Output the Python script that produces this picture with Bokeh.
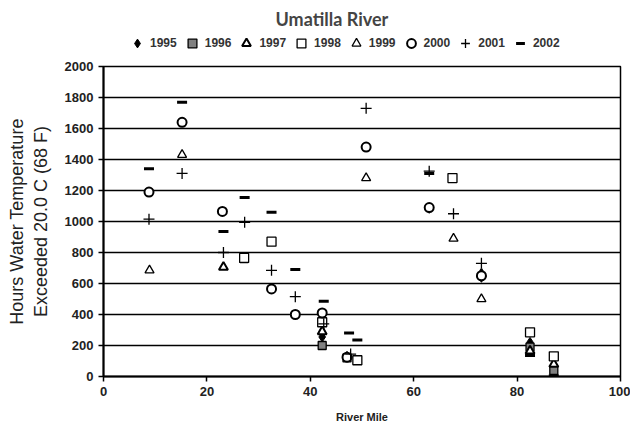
from bokeh.plotting import figure
from bokeh.layouts import column
from bokeh.models import Legend, LegendItem, Range1d, FixedTicker
from bokeh.embed import file_html
from bokeh.resources import INLINE

# River mile (x) and hours exceeded (y) per year
x1995 = [32.5, 42.3, 47.1, 63.0, 73.1, 82.5, 87.1]
y1995 = [565, 255, 130, 1085, 640, 220, 60]
x1996 = [27.2, 42.3, 47.1, 82.5, 87.1]
y1996 = [760, 200, 120, 190, 40]
x1997 = [23.2, 42.3, 73.1, 82.5, 87.1]
y1997 = [705, 290, 660, 165, 80]
x1998 = [27.2, 32.5, 42.3, 49.1, 67.5, 82.5, 87.1]
y1998 = [765, 870, 350, 105, 1280, 285, 130]
x1999 = [8.9, 15.2, 50.8, 67.7, 73.1]
y1999 = [685, 1430, 1280, 890, 500]
x2000 = [8.8, 15.2, 23.0, 32.5, 37.1, 42.3, 47.1, 50.8, 63.0, 73.1]
y2000 = [1190, 1640, 1065, 565, 400, 410, 125, 1480, 1090, 650]
x2001 = [8.8, 15.2, 23.2, 27.3, 32.5, 37.1, 42.6, 47.8, 50.8, 63.0, 67.7, 73.1]
y2001 = [1015, 1310, 800, 995, 685, 515, 340, 145, 1730, 1325, 1050, 730]
x2002 = [8.8, 15.2, 23.2, 27.3, 32.5, 37.1, 42.6, 47.5, 49.1, 63.0, 82.5, 87.1]
y2002 = [1340, 1770, 935, 1155, 1060, 690, 485, 280, 235, 1310, 135, 5]

years = ["1995", "1996", "1997", "1998", "1999", "2000", "2001", "2002"]
y_ticks = [0, 200, 400, 600, 800, 1000, 1200, 1400, 1600, 1800, 2000]
x_ticks = [0, 20, 40, 60, 80, 100]

styles = [
    dict(marker="diamond", size=10, fill_color="black", line_color="black"),
    dict(marker="square", size=8, fill_color="#808080", line_color="black", line_width=1.3),
    dict(marker="triangle", size=9, fill_color="white", line_color="black", line_width=2),
    dict(marker="square", size=9, fill_color="white", line_color="black", line_width=1.3),
    dict(marker="triangle", size=9, fill_color="white", line_color="black", line_width=1.3),
    dict(marker="circle", size=9, fill_color="white", line_color="black", line_width=2),
    dict(marker="cross", size=11, line_color="black", line_width=1.3),
    dict(marker="dash", size=10, line_color="black", line_width=3),
]
xs = [x1995, x1996, x1997, x1998, x1999, x2000, x2001, x2002]
ys = [y1995, y1996, y1997, y1998, y1999, y2000, y2001, y2002]

# ---- header figure: title + legend (series drawn outside its tiny frame) ----
h = figure(width=630, height=58, output_backend="svg", toolbar_location=None,
           x_range=Range1d(0, 1), y_range=Range1d(0, 1),
           min_border_left=103, min_border_right=10, min_border_top=28, min_border_bottom=0)
h.axis.visible = False
h.grid.visible = False
h.outline_line_color = None
h.title.text = "Umatilla River"
h.title.text_font = "Lato"
h.title.text_font_size = "18px"
h.title.text_font_style = "bold"
h.title.text_color = "#444444"
h.title.align = "left"
h.title.offset = 172

leg_rends = [h.scatter(x, y, **s) for x, y, s in zip(xs, ys, styles)]
legend = Legend(items=[LegendItem(label=y, renderers=[r]) for y, r in zip(years, leg_rends)],
                orientation="horizontal", location=(23, 3),
                label_text_font="Liberation Sans", label_text_font_size="12px",
                label_text_font_style="bold", label_text_color="#333333",
                glyph_width=22, glyph_height=24, label_standoff=2, spacing=4,
                padding=0, margin=0, border_line_color=None, background_fill_alpha=0,
                label_height=14)
h.add_layout(legend, "center")

# ---- main figure ----
p = figure(width=630, height=374, output_backend="svg", toolbar_location=None,
           x_range=Range1d(0, 100), y_range=Range1d(0, 2000),
           min_border_left=103, min_border_right=10, min_border_top=8, min_border_bottom=56)

for x, y, s in zip(xs, ys, styles):
    p.scatter(x, y, **s)

p.xaxis.ticker = FixedTicker(ticks=x_ticks)
p.yaxis.ticker = FixedTicker(ticks=y_ticks)
p.xaxis.axis_label = "River Mile"
p.yaxis.axis_label = "Hours Water Temperature\nExceeded 20.0 C (68 F)"
p.xaxis.axis_label_text_font = "Liberation Sans"
p.xaxis.axis_label_text_font_size = "11px"
p.xaxis.axis_label_text_font_style = "bold"
p.yaxis.axis_label_text_font = "Liberation Sans"
p.yaxis.axis_label_text_font_size = "18px"
p.yaxis.axis_label_text_font_style = "normal"
for ax in (p.xaxis, p.yaxis):
    ax.axis_label_text_color = "#222222"
    ax.major_label_text_font = "Liberation Sans"
    ax.major_label_text_font_size = "13px"
    ax.major_label_text_font_style = "bold"
    ax.major_label_text_color = "#222222"
    ax.axis_line_color = "black"
    ax.axis_line_width = 2
    ax.major_tick_line_color = "black"
    ax.major_tick_line_width = 1.5
    ax.major_tick_in = 0
    ax.major_tick_out = 5
    ax.minor_tick_line_color = None
    ax.major_label_standoff = 5
p.yaxis.axis_label_standoff = 11
p.xaxis.axis_label_standoff = 12

p.xgrid.grid_line_color = None
p.ygrid.grid_line_color = "black"
p.ygrid.grid_line_width = 1.5
p.outline_line_color = "black"
p.outline_line_width = 1.5
p.background_fill_color = "white"

open("out.html", "w").write(file_html(column(h, p, spacing=0), INLINE))
